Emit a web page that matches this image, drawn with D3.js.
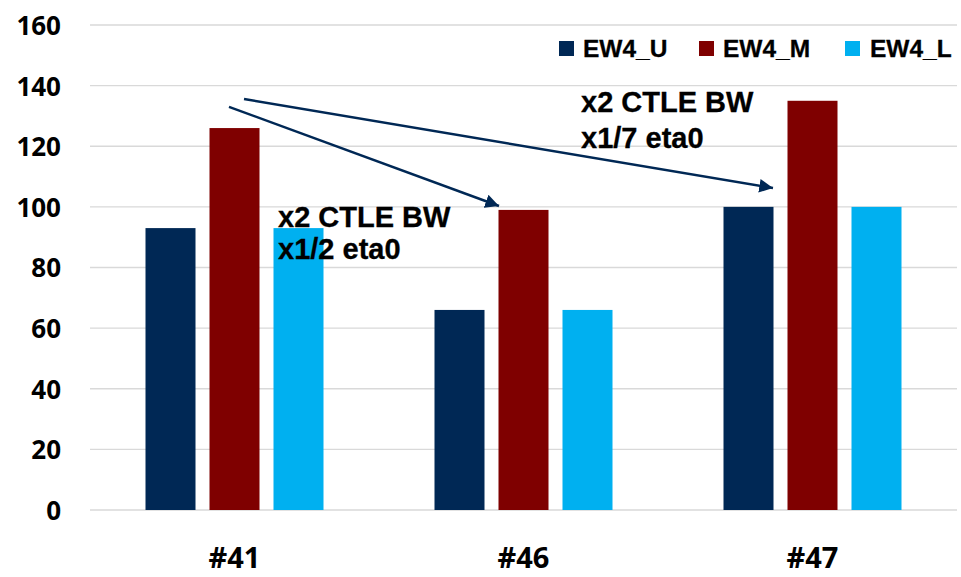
<!DOCTYPE html>
<html>
<head>
<meta charset="utf-8">
<script src="https://cdn.jsdelivr.net/npm/d3@7"></script>
<style>
  html, body { margin: 0; padding: 0; background: #fff; }
  svg { display: block; }
</style>
</head>
<body>
<svg id="chart" width="961" height="577"></svg>
<script>
// Categories and series
const categories = ["#41", "#46", "#47"];
const seriesNames = ["EW4_U", "EW4_M", "EW4_L"];
const ew4U = [93, 66, 100];
const ew4M = [126, 99, 135];
const ew4L = [93, 66, 100];
const yTicks = [0, 20, 40, 60, 80, 100, 120, 140, 160];
const seriesColors = ["#002855", "#7f0000", "#00b0f0"];

const seriesValues = [ew4U, ew4M, ew4L];
const rows = categories.map((c, i) => ({
  cat: c,
  vals: seriesNames.map((s, j) => ({ key: s, value: seriesValues[j][i] }))
}));

const svg = d3.select("#chart");
const plotLeft = 90, plotRight = 957, plotTop = 25, plotBottom = 510;

const x = d3.scaleBand().domain(categories).range([plotLeft, plotRight]).padding(0);
const groupW = 178;
const xs = d3.scaleBand().domain(seriesNames).range([0, groupW])
  .paddingInner(14 / 64).paddingOuter(0);
const y = d3.scaleLinear().domain([0, 160]).range([plotBottom, plotTop]);
const color = d3.scaleOrdinal().domain(seriesNames).range(seriesColors);

// Horizontal gridlines
svg.append("g").selectAll("line").data(yTicks).join("line")
  .attr("x1", plotLeft).attr("x2", plotRight)
  .attr("y1", d => y(d)).attr("y2", d => y(d))
  .attr("stroke", "#d9d9d9").attr("stroke-width", 1.4);

// Y axis labels
const yAxis = d3.axisLeft(y).tickValues(yTicks).tickSize(0).tickPadding(0);
const yg = svg.append("g").attr("transform", "translate(61,0)").call(yAxis);
yg.select(".domain").remove();
yg.selectAll("text")
  .attr("font-family", "'Open Sans', sans-serif")
  .attr("font-weight", "bold").attr("font-size", 26)
  .attr("fill", "#000").attr("dy", "0.36em");

// X axis labels
const xAxis = d3.axisBottom(x).tickSize(0).tickPadding(0);
const xg = svg.append("g").attr("transform", "translate(0,568)").call(xAxis);
xg.select(".domain").remove();
xg.selectAll("text")
  .attr("font-family", "'Open Sans', sans-serif")
  .attr("font-weight", "bold").attr("font-size", 29)
  .attr("fill", "#000").attr("dy", 0);

// Bars
const groups = svg.append("g").selectAll("g").data(rows).join("g")
  .attr("transform", d => `translate(${x(d.cat) + x.bandwidth() / 2 - groupW / 2},0)`);
groups.selectAll("rect").data(d => d.vals).join("rect")
  .attr("x", d => xs(d.key))
  .attr("width", xs.bandwidth())
  .attr("y", d => y(d.value))
  .attr("height", d => y(0) - y(d.value))
  .attr("fill", d => color(d.key));

// Legend
const legendItems = [
  { key: "EW4_U", sx: 559, tx: 583 },
  { key: "EW4_M", sx: 699, tx: 723 },
  { key: "EW4_L", sx: 845, tx: 870 }
];
const lg = svg.append("g");
lg.selectAll("rect").data(legendItems).join("rect")
  .attr("x", d => d.sx).attr("y", 41).attr("width", 15).attr("height", 15)
  .attr("fill", d => color(d.key));
lg.selectAll("text").data(legendItems).join("text")
  .attr("x", d => d.tx).attr("y", 57)
  .attr("font-family", "'Liberation Sans', Arial, sans-serif")
  .attr("font-weight", "bold").attr("font-size", 24.5)
  .attr("stroke", "#000").attr("stroke-width", 0.3)
  .attr("fill", "#000").text(d => d.key);

// Arrow annotations (endpoints in category/value space)
const defs = svg.append("defs");
defs.append("marker").attr("id", "head")
  .attr("viewBox", "0 0 10 10").attr("refX", 10).attr("refY", 5)
  .attr("markerWidth", 5.5).attr("markerHeight", 5.5).attr("orient", "auto")
  .attr("markerUnits", "strokeWidth")
  .append("path").attr("d", "M0,0 L10,5 L0,10 Z").attr("fill", "#002855");

const cx = (cat, off) => x(cat) + x.bandwidth() / 2 + off;
const arrows = [
  { from: ["#41", -5.5, 133], to: ["#46", -24.5, 100.3] },
  { from: ["#41", 9.5, 135.6], to: ["#47", -39.5, 106.2] }
];
svg.append("g").selectAll("line").data(arrows).join("line")
  .attr("x1", d => cx(d.from[0], d.from[1])).attr("y1", d => y(d.from[2]))
  .attr("x2", d => cx(d.to[0], d.to[1])).attr("y2", d => y(d.to[2]))
  .attr("stroke", "#002855").attr("stroke-width", 2.5)
  .attr("marker-end", "url(#head)");

// Text annotations
const notes = [
  { cat: "#46", off: 57.5, val: 131.4, text: "x2 CTLE BW" },
  { cat: "#46", off: 57.5, val: 119.3, text: "x1/7 eta0" },
  { cat: "#41", off: 43.5, val: 93.5, text: "x2 CTLE BW" },
  { cat: "#41", off: 43.5, val: 82.7, text: "x1/2 eta0" }
];
svg.append("g").selectAll("text").data(notes).join("text")
  .attr("x", d => cx(d.cat, d.off)).attr("y", d => y(d.val))
  .attr("font-family", "'Liberation Sans', Arial, sans-serif")
  .attr("font-weight", "bold").attr("font-size", 29)
  .attr("stroke", "#000").attr("stroke-width", 0.3)
  .attr("fill", "#000").text(d => d.text);
</script>
</body>
</html>
